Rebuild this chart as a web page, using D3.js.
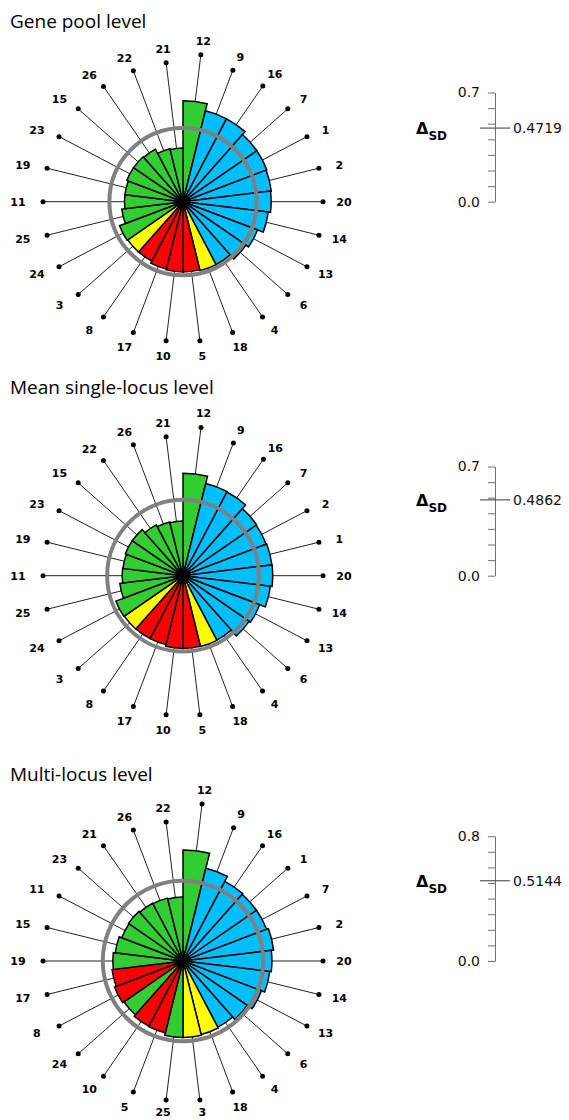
<!DOCTYPE html>
<meta charset="utf-8">
<style>
body { margin: 0; background: #fff; }
.title { font: 19px "Open Sans", sans-serif; fill: #000; }
.lab { font: bold 11px "DejaVu Sans", sans-serif; fill: #000; }
.axis text { font: 14px "DejaVu Sans", sans-serif; fill: #111; }
.axis path, .axis line { stroke: #707070; }
.val { font: 14px "DejaVu Sans", sans-serif; fill: #111; }
.delta { font: bold 16px "DejaVu Sans", sans-serif; fill: #000; }
</style>
<svg width="569" height="1120"></svg>
<script src="https://d3js.org/d3.v7.min.js"></script>
<script>

// sectors, clockwise from 12 o'clock
var labels1 = ["12","9","16","7","1","2","20","14","13","6","4","18","5","10","17","8","3","24","25","11","19","23","15","26","22","21"];
var values1 = [0.647,0.600,0.600,0.575,0.575,0.570,0.565,0.550,0.510,0.490,0.455,0.455,0.450,0.450,0.445,0.430,0.430,0.435,0.395,0.375,0.375,0.385,0.385,0.380,0.350,0.345];
var groups1 = ["g","b","b","b","b","b","b","b","b","b","b","y","r","r","r","r","y","g","g","g","g","g","g","g","g","g"];

var labels2 = ["12","9","16","7","2","1","20","14","13","6","4","18","5","10","17","8","3","24","25","11","19","23","15","22","26","21"];
var values2 = [0.656,0.609,0.606,0.574,0.570,0.574,0.575,0.564,0.525,0.515,0.466,0.468,0.466,0.466,0.455,0.455,0.457,0.460,0.408,0.390,0.388,0.395,0.395,0.368,0.355,0.350];
var groups2 = ["g","b","b","b","b","b","b","b","b","b","b","y","r","r","r","r","y","g","g","g","g","g","g","g","g","g"];

var labels3 = ["12","9","16","1","7","2","20","14","13","6","4","18","3","25","5","10","24","8","17","19","15","11","23","21","26","22"];
var values3 = [0.712,0.613,0.577,0.572,0.573,0.585,0.570,0.560,0.538,0.500,0.480,0.485,0.490,0.490,0.474,0.472,0.460,0.470,0.458,0.450,0.437,0.420,0.425,0.418,0.415,0.410];
var groups3 = ["g","b","b","b","b","b","b","b","b","b","b","y","y","g","r","r","g","r","r","g","g","g","g","g","g","g"];

var titles = ["Gene pool level", "Mean single-locus level", "Multi-locus level"];
var means = [0.4719, 0.4862, 0.5144];
var axisMax = [0.7, 0.7, 0.8];

var color = d3.scaleOrdinal()
    .domain(["g","b","y","r"])
    .range(["#33cc33","#00bfff","#ffff00","#ff0000"]);

var svg = d3.select("svg"),
    height = +svg.attr("height");
var r = d3.scaleLinear().domain([0, 1]).range([0, 156]);

var panels = [
  {labels: labels1, values: values1, groups: groups1, cy: 201.7, ty: 28},
  {labels: labels2, values: values2, groups: groups2, cy: 575.7, ty: 394},
  {labels: labels3, values: values3, groups: groups3, cy: 961, ty: 781}
];

panels.forEach(function(p, k) {
  var cx = 183, cy = p.cy;
  var step = 2 * Math.PI / p.values.length;

  svg.append("text").attr("class", "title")
      .attr("x", 10).attr("y", p.ty).text(titles[k]);

  var g = svg.append("g").attr("transform", "translate(" + cx + "," + cy + ")");

  var data = p.values.map(function(v, i) {
    var a = (i + 0.5) * step;
    return {v: v, label: p.labels[i], group: p.groups[i], i: i, a: a,
            rd: Math.max(140, r(v) + 47)};
  });

  // spokes + dots
  g.selectAll("line.spoke").data(data).enter().append("line")
      .attr("class", "spoke")
      .attr("x1", 0).attr("y1", 0)
      .attr("x2", function(d) { return Math.sin(d.a) * d.rd; })
      .attr("y2", function(d) { return -Math.cos(d.a) * d.rd; })
      .attr("stroke", "#222").attr("stroke-width", 1);

  g.selectAll("circle.dot").data(data).enter().append("circle")
      .attr("class", "dot")
      .attr("cx", function(d) { return Math.sin(d.a) * d.rd; })
      .attr("cy", function(d) { return -Math.cos(d.a) * d.rd; })
      .attr("r", 2.5).attr("fill", "#000");

  // labels (kept inside the page at the bottom edge)
  g.selectAll("text.lab").data(data).enter().append("text")
      .attr("class", "lab")
      .attr("text-anchor", "middle")
      .attr("dy", "0.35em")
      .attr("x", function(d) {
        var s = Math.sin(d.a);
        return s * d.rd + s * (s < 0 ? 25 : 21);
      })
      .attr("y", function(d) {
        var c = Math.cos(d.a);
        var yy = -c * d.rd - c * (c > 0 ? 14 : 16);
        return Math.min(yy, height - 8 - cy);
      })
      .text(function(d) { return d.label; });

  // bars
  var arc = d3.arc()
      .innerRadius(0)
      .outerRadius(function(d) { return r(d.v); })
      .startAngle(function(d) { return d.i * step; })
      .endAngle(function(d) { return (d.i + 1) * step; });

  g.selectAll("path.bar").data(data).enter().append("path")
      .attr("class", "bar")
      .attr("d", arc)
      .attr("fill", function(d) { return color(d.group); })
      .attr("stroke", "#000").attr("stroke-width", 1.5)
      .attr("stroke-linejoin", "miter");

  // mean ring
  g.append("circle").attr("r", r(means[k]))
      .attr("fill", "none").attr("stroke", "#808080").attr("stroke-width", 4);

  g.append("circle").attr("r", 6.5).attr("fill", "#000");

  // scale on the right
  var y = d3.scaleLinear().domain([0, axisMax[k]]).range([cy, cy - r(axisMax[k])]);
  var ticks = d3.range(0, Math.round(axisMax[k] * 10) + 1).map(function(t) { return t / 10; });
  var ax = svg.append("g").attr("class", "axis")
      .attr("transform", "translate(495,0)")
      .call(d3.axisLeft(y).tickValues(ticks).tickSize(7).tickSizeOuter(0).tickPadding(8)
        .tickFormat(function(t, i) { return (i === 0 || i === ticks.length - 1) ? d3.format(".1f")(t) : ""; }));
  ax.select(".domain").attr("stroke", "#707070");

  var my = y(means[k]);
  svg.append("line").attr("x1", 480).attr("x2", 510).attr("y1", my).attr("y2", my)
      .attr("stroke", "#555").attr("stroke-width", 1.2);
  svg.append("text").attr("class", "val").attr("x", 513).attr("y", my + 5).text(means[k].toFixed(4));

  var dt = svg.append("text").attr("class", "delta").attr("x", 416).attr("y", my + 6);
  dt.append("tspan").text("\u0394");
  dt.append("tspan").attr("dy", 6).attr("font-size", "12px").text("SD");
});

</script>
